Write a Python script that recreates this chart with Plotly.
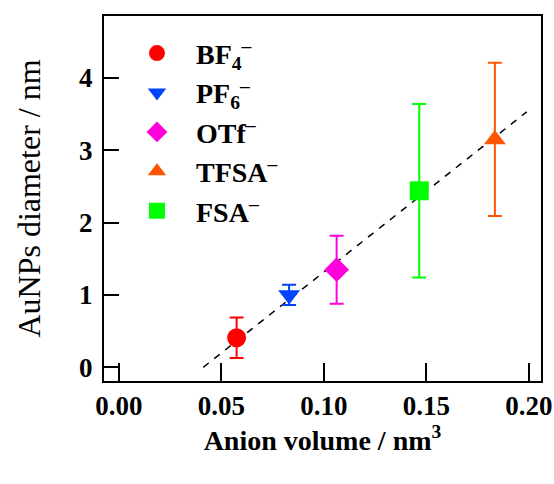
import plotly.graph_objects as go

# Data
names = ["<b>BF<sub>4</sub><sup>–</sup></b>", "<b>PF<sub>6</sub><sup>–</sup></b>",
         "<b>OTf<sup>–</sup></b>", "<b>TFSA<sup>–</sup></b>", "<b>FSA<sup>–</sup></b>"]
volumes = [0.0574, 0.083, 0.1062, 0.1834, 0.1465]
diameters = [0.41, 1.0, 1.35, 3.15, 2.44]
errors = [0.28, 0.14, 0.47, 1.06, 1.2]
colors = ["#ff0000", "#0044ff", "#ff00dd", "#ff5500", "#00ff00"]
symbols = ["circle", "triangle-down", "diamond", "triangle-up", "square"]

fit_x = [0.0411, 0.1989]
fit_y = [0.0, 3.53]

FONT = "Liberation Serif"

fig = go.Figure()
fig.add_trace(go.Scatter(x=fit_x, y=fit_y, mode="lines",
                         line=dict(color="black", width=1.5, dash="7px,7px"),
                         showlegend=False, hoverinfo="skip"))
for i in range(len(names)):
    fig.add_trace(go.Scatter(
        x=[volumes[i]], y=[diameters[i]], mode="markers", name=names[i],
        legendgroup=f"g{i}",
        marker=dict(symbol=symbols[i], size=19, color=colors[i], line=dict(width=0)),
        error_y=dict(type="data", array=[errors[i]], color=colors[i],
                     thickness=2, width=7),
    ))

fig.update_layout(
    width=554, height=484,
    margin=dict(l=104, r=13, t=16, b=103),
    paper_bgcolor="white", plot_bgcolor="white",
    font=dict(family=FONT, color="black"),
    showlegend=True,
    legend=dict(x=0.032, y=0.966, xanchor="left", yanchor="top",
                bgcolor="rgba(0,0,0,0)", font=dict(family=FONT, size=28),
                itemwidth=68, tracegroupgap=0),
    xaxis=dict(range=[-0.0073, 0.2059], tickvals=[0, 0.05, 0.1, 0.15, 0.2],
               ticktext=["0.00", "0.05", "0.10", "0.15", "0.20"],
               ticks="inside", ticklen=18, tickwidth=2, tickcolor="black",
               showline=True, linecolor="black", linewidth=2, mirror=True,
               showgrid=False, zeroline=False, automargin=False,
               tickfont=dict(family=FONT, size=27, weight="bold"),
               title=dict(text="<b>Anion volume / nm<sup>3</sup></b>",
                          font=dict(family=FONT, size=28), standoff=10)),
    yaxis=dict(range=[-0.189, 4.856], tickvals=[0, 1, 2, 3, 4],
               ticks="inside", ticklen=15, tickwidth=2, tickcolor="black",
               showline=True, linecolor="black", linewidth=2, mirror=True,
               showgrid=False, zeroline=False, ticklabelstandoff=4,
               automargin=False,
               tickfont=dict(family=FONT, size=27, weight="bold"),
               title=dict(text="AuNPs diameter / nm",
                          font=dict(family=FONT, size=32), standoff=29)),
)

fig.write_html("out.html")
